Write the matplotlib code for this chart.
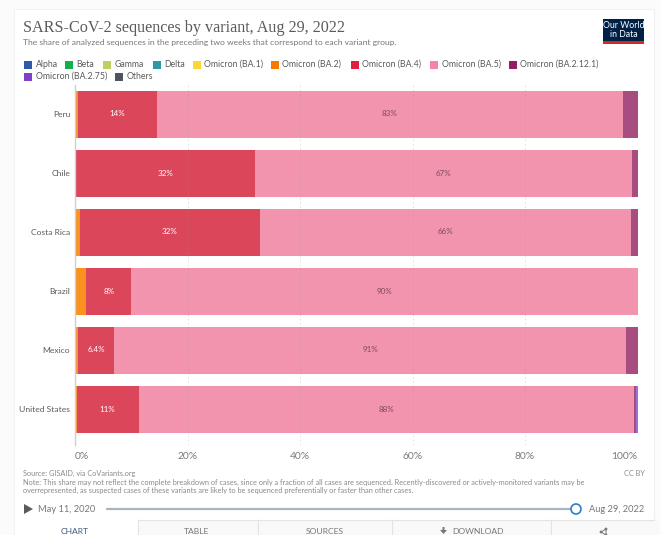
import matplotlib
matplotlib.use('Agg')
import matplotlib.pyplot as plt
from matplotlib.patches import Rectangle, Circle, Polygon

W, H = 661, 535

countries = ['Peru', 'Chile', 'Costa Rica', 'Brazil', 'Mexico', 'United States']
ba2 = [0.5, 0, 0.8, 2, 0.6, 0.3]
ba4 = [14, 32, 32, 8, 6.4, 11]
ba5 = [83, 67, 66, 90, 91, 88]
ba2121 = [2.5, 1, 1.2, 0, 2, 0.5]
ba275 = [0, 0, 0, 0, 0, 0.2]
ba4_labels = ['14%', '32%', '32%', '8%', '6.4%', '11%']
ba5_labels = ['83%', '67%', '66%', '90%', '91%', '88%']

legend_row1 = ['Alpha', 'Beta', 'Gamma', 'Delta', 'Omicron (BA.1)', 'Omicron (BA.2)',
               'Omicron (BA.4)', 'Omicron (BA.5)', 'Omicron (BA.2.12.1)']
legend_row1_x = [24, 65, 103, 153, 193, 271, 351, 430, 508.5]
legend_row1_col = ['#2c5ca8', '#12b04b', '#c0d060', '#2a9aa8', '#fdd835', '#f57c00',
                   '#e0203f', '#f583a3', '#961e60']
legend_row2 = ['Omicron (BA.2.75)', 'Others']
legend_row2_x = [24, 115]
legend_row2_col = ['#8040c8', '#4e5560']
xticks = [0, 20, 40, 60, 80, 100]
tabs = ['CHART', 'TABLE', 'SOURCES', 'DOWNLOAD']
tabs_x = [75, 197, 325, 478]

plt.rcParams['font.family'] = ['Lato', 'DejaVu Sans']

fig = plt.figure(figsize=(W / 100, H / 100), dpi=100, facecolor='white')

# overlay in pixel coordinates for everything around the plot
bg = fig.add_axes([0, 0, 1, 1], zorder=0)
bg.set_xlim(0, W)
bg.set_ylim(H, 0)
bg.axis('off')
bg.add_patch(Rectangle((0, 0), W, H, fc='#fbfbfb', ec='none'))
bg.add_patch(Rectangle((14, 9), 640, 530, fc='white', ec='#f2f2f2', lw=0.8))

bg.text(23, 32, 'SARS-CoV-2 sequences by variant, Aug 29, 2022', family='Liberation Serif',
        fontsize=11.6, color='#5b5b5b', va='baseline')
bg.text(23, 45.5, 'The share of analyzed sequences in the preceding two weeks that correspond to each variant group.',
        fontsize=6.1, color='#777777', va='baseline')

# logo
bg.add_patch(Rectangle((603, 19), 41, 22, fc='#002147', ec='none'))
bg.add_patch(Rectangle((603, 41), 41, 2.5, fc='#d42b21', ec='none'))
bg.text(623.5, 25.5, 'Our World', color='white', fontsize=6.3, ha='center', va='center')
bg.text(623.5, 34.5, 'in Data', color='white', fontsize=6.3, ha='center', va='center')

# legend
for names, xs, cols, y in [(legend_row1, legend_row1_x, legend_row1_col, 64.5),
                           (legend_row2, legend_row2_x, legend_row2_col, 76.5)]:
    for name, x, c in zip(names, xs, cols):
        bg.add_patch(Rectangle((x, y - 4), 8, 8, fc=c, ec='none'))
        bg.text(x + 11.5, y, name, fontsize=6.3, color='#5b5b5b', va='center')

# footer
foot = '#8a8a8a'
bg.text(23, 476, 'Source: GISAID, via CoVariants.org', fontsize=5.35, color=foot, va='baseline')
bg.text(645, 476, 'CC BY', fontsize=5.35, color=foot, va='baseline', ha='right')
bg.text(23, 484.5, 'Note: This share may not reflect the complete breakdown of cases, since only a fraction of all cases are sequenced. Recently-discovered or actively-monitored variants may be',
        fontsize=5.35, color=foot, va='baseline')
bg.text(23, 493, 'overrepresented, as suspected cases of these variants are likely to be sequenced preferentially or faster than other cases.',
        fontsize=5.35, color=foot, va='baseline')

# timeline
bg.add_patch(Polygon([(24, 504), (24, 514), (33, 509)], fc='#5b5b5b', ec='none'))
bg.text(38, 509, 'May 11, 2020', fontsize=6.7, color='#777777', va='center')
bg.plot([107, 576], [509, 509], color='#a9b4c0', lw=1.6, solid_capstyle='round')
bg.add_patch(Circle((576, 509), 5, fc='white', ec='#2c7fc9', lw=1.2, zorder=4))
bg.text(644, 509, 'Aug 29, 2022', fontsize=6.7, color='#777777', va='center', ha='right')

# tab strip
bg.add_patch(Rectangle((137.5, 520), 520, 20, fc='#f9f9f9', ec='none'))
bg.plot([137.5, 654], [520, 520], color='#e4e4e4', lw=0.8)
for x in [137.5, 258, 392, 551]:
    bg.plot([x, x], [520, 535], color='#e4e4e4', lw=0.8)
for name, x in zip(tabs, tabs_x):
    bg.text(x, 531.5, name, fontsize=6.1, va='center', ha='center',
            color='#3d5a80' if name == 'CHART' else '#777777')
# download arrow and share icon
bg.add_patch(Polygon([(442.5, 527), (442.5, 530), (440, 530), (443.5, 534), (447, 530), (444.5, 530), (444.5, 527)],
                     fc='#777777', ec='none'))
bg.plot([601, 606, 606], [532, 529, 535], color='#777777', lw=0.7)
bg.plot([601, 606], [532, 535], color='#777777', lw=0.7)
for cx, cy in [(601, 532), (606, 529), (606, 535)]:
    bg.add_patch(Circle((cx, cy), 1.4, fc='#777777', ec='none'))

# stacked bars, centres 59 px apart, first centre at y=114
ax_top, ax_bottom = 85, 445
ax_left, ax_right = 75, 637.5
ax = fig.add_axes([ax_left / W, 1 - ax_bottom / H, (ax_right - ax_left) / W, (ax_bottom - ax_top) / H], zorder=1)
ax.patch.set_visible(False)
ypos = list(range(len(countries)))
left = [0.0] * len(countries)
for vals, col in [(ba2, '#f9921f'), (ba4, '#dc465b'), (ba5, '#f394ae'),
                  (ba2121, '#a84d80'), (ba275, '#9a70dc')]:
    ax.barh(ypos, vals, left=left, height=47 / 59, color=col, linewidth=0, zorder=2)
    if vals is ba4:
        for y, l, v, t in zip(ypos, left, vals, ba4_labels):
            ax.text(l + v / 2, y, t, ha='center', va='center', fontsize=5.8, color='white', zorder=4)
    if vals is ba5:
        for y, l, v, t in zip(ypos, left, vals, ba5_labels):
            ax.text(l + v / 2, y, t, ha='center', va='center', fontsize=5.8, color='#7d4a5c', zorder=4)
    left = [a + b for a, b in zip(left, vals)]

ax.set_xlim(0, 100)
ax.set_ylim((ax_bottom - 114) / 59, (ax_top - 114) / 59)
ax.set_yticks(ypos)
ax.set_yticklabels(countries, fontsize=6.1, color='#5b5b5b')
ax.set_xticks(xticks)
ax.set_xticklabels([f'{t}%' for t in xticks], fontsize=7.4, color='#7a7a7a')
ax.get_xticklabels()[0].set_ha('left')
ax.get_xticklabels()[-1].set_ha('right')
ax.tick_params(axis='y', length=0, pad=3.5)
ax.tick_params(axis='x', length=0, pad=5)
for s in ['top', 'right', 'bottom']:
    ax.spines[s].set_visible(False)
ax.spines['left'].set_color('#cfcfcf')
ax.spines['left'].set_linewidth(1)
ax.spines['left'].set_zorder(5)
ax.xaxis.grid(True, color='#9a9a9a', alpha=0.35, lw=0.6, linestyle=(0, (2, 3)), zorder=3)
ax.set_axisbelow(False)
for line in ax.get_xgridlines()[:1]:
    line.set_visible(False)

fig.savefig('out.png', dpi=100)
